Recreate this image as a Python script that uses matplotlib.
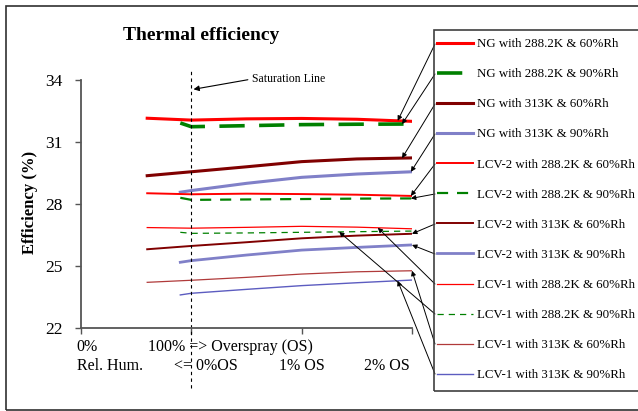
import numpy as np
import matplotlib
matplotlib.use("Agg")
import matplotlib.pyplot as plt
from matplotlib.patches import Rectangle

plt.rcParams['font.family'] = 'serif'
plt.rcParams['font.serif'] = ['Liberation Serif', 'DejaVu Serif']

## x positions: 0 = 0% RH, 1 = 100% RH / 0% OS, 2 = 1% OS, 3 = 2% OS
x_rh60 = [0.6, 1.0, 1.5, 2.0, 2.5, 3.0]
x_rh90 = [0.9, 1.0, 1.5, 2.0, 2.5, 3.0]

ng_288_60 = [32.15, 32.06, 32.12, 32.14, 32.10, 32.00]
ng_288_90 = [31.92, 31.74, 31.79, 31.84, 31.86, 31.87]
ng_313_60 = [29.37, 29.56, 29.80, 30.05, 30.18, 30.23]
ng_313_90 = [28.57, 28.65, 29.00, 29.29, 29.45, 29.56]
lcv2_288_60 = [28.52, 28.47, 28.50, 28.48, 28.45, 28.39]
lcv2_288_90 = [28.30, 28.20, 28.22, 28.24, 28.26, 28.27]
lcv2_313_60 = [25.81, 25.97, 26.15, 26.34, 26.47, 26.56]
lcv2_313_90 = [25.18, 25.26, 25.53, 25.77, 25.90, 26.02]
lcv1_288_60 = [26.86, 26.83, 26.87, 26.92, 26.88, 26.80]
lcv1_288_90 = [26.63, 26.58, 26.60, 26.63, 26.66, 26.69]
lcv1_313_60 = [24.21, 24.31, 24.45, 24.61, 24.72, 24.77]
lcv1_313_90 = [23.60, 23.68, 23.87, 24.05, 24.19, 24.32]

labels = ["NG with 288.2K & 60%Rh", "NG with 288.2K & 90%Rh",
          "NG with 313K & 60%Rh", "NG with 313K & 90%Rh",
          "LCV-2 with 288.2K & 60%Rh", "LCV-2 with 288.2K & 90%Rh",
          "LCV-2 with 313K & 60%Rh", "LCV-2 with 313K & 90%Rh",
          "LCV-1 with 288.2K & 60%Rh", "LCV-1 with 288.2K & 90%Rh",
          "LCV-1 with 313K & 60%Rh", "LCV-1 with 313K & 90%Rh"]

y_ticks = [22, 25, 28, 31, 34]

series = [
    (x_rh60, ng_288_60, "#FF0000", 2.2, "-"),
    (x_rh90, ng_288_90, "#008000", 2.6, (0, (7, 4))),
    (x_rh60, ng_313_60, "#800000", 2.2, "-"),
    (x_rh90, ng_313_90, "#8080C8", 2.2, "-"),
    (x_rh60, lcv2_288_60, "#FF0000", 1.4, "-"),
    (x_rh90, lcv2_288_90, "#008000", 1.6, (0, (5, 4))),
    (x_rh60, lcv2_313_60, "#800000", 1.4, "-"),
    (x_rh90, lcv2_313_90, "#8080C8", 2.0, "-"),
    (x_rh60, lcv1_288_60, "#FF0000", 0.9, "-"),
    (x_rh90, lcv1_288_90, "#008000", 0.9, (0, (5, 4))),
    (x_rh60, lcv1_313_60, "#B03A3A", 0.9, "-"),
    (x_rh90, lcv1_313_90, "#5C5CC0", 1.0, "-"),
]
## where each callout arrow hits its line
arrow_x = [2.87, 2.91, 2.91, 2.99, 2.99, 2.99, 3.0, 3.0, 2.69, 2.34, 3.0, 2.87]

W, H = 638, 411
fig = plt.figure(figsize=(W / 100, H / 100), dpi=100)
ax = fig.add_axes([81 / W, (H - 328) / H, (412 - 81) / W, (328 - 80) / H])

handles = []
for xs, ys, c, lw, ls in series:
    ln, = ax.plot(xs, ys, color=c, lw=lw, linestyle=ls)
    handles.append(ln)

ax.set_xlim(0, 3)
ax.set_ylim(22, 34)
ax.set_yticks(y_ticks)
ax.set_xticks([0, 1, 2, 3])
ax.set_xticklabels([])
ax.tick_params(axis='y', direction='out', length=4, width=1, pad=9,
               labelsize=12.5, color='#555555')
ax.tick_params(axis='x', direction='out', length=4, width=1, color='#555555')
for s in ['top', 'right']:
    ax.spines[s].set_visible(False)
for s in ['left', 'bottom']:
    ax.spines[s].set_color('#555555')
    ax.spines[s].set_linewidth(1.3)

## x "labels"
xt = ax.get_xaxis_transform()
ax.text(-0.04, -0.077, "0%", transform=xt, ha='left', va='center', fontsize=11.5)
ax.text(0.61, -0.077, "100% => Overspray (OS)", transform=xt, ha='left', va='center', fontsize=11.5)
ax.text(-0.04, -0.153, "Rel. Hum.", transform=xt, ha='left', va='center', fontsize=11.5)
ax.text(0.84, -0.153, "<= 0%OS", transform=xt, ha='left', va='center', fontsize=11.5)
ax.text(2.0, -0.153, "1% OS", transform=xt, ha='center', va='center', fontsize=11.5)
ax.text(2.77, -0.153, "2% OS", transform=xt, ha='center', va='center', fontsize=11.5)

## saturation line
ax.axvline(1.0, ymin=-0.242, ymax=1.04, clip_on=False, color='black', lw=0.8,
           linestyle=(0, (3, 3)))
ax.annotate("Saturation Line", xy=(1.02, 33.55), xycoords='data',
            xytext=(252, H - 79), textcoords='figure pixels',
            ha='left', va='center', fontsize=8.5,
            arrowprops=dict(arrowstyle='-|>', color='black', lw=0.8,
                            mutation_scale=8, shrinkA=1, shrinkB=0,
                            relpos=(0, 0.5)))

fig.text(201 / W, 1 - 36 / H, "Thermal efficiency", ha='center', va='center',
         fontsize=14, fontweight='bold')
fig.text(30 / W, 1 - 202 / H, "Efficiency (%)", ha='center', va='center',
         rotation=90, fontsize=12, fontweight='bold')

## legend
leg = ax.legend(handles, labels, loc='upper left',
                bbox_to_anchor=(437 / W, 1 - 38 / H), bbox_transform=fig.transFigure,
                frameon=False, fontsize=9.3, handlelength=2.8, handletextpad=0.3,
                labelspacing=1.4, borderpad=0, borderaxespad=0)

for i, (xs, ys, c, lw, ls) in enumerate(series):
    tx = arrow_x[i]
    ty = np.interp(tx, xs, ys)
    ax.annotate("", xy=(tx, ty), xycoords='data',
                xytext=(435, H - 44 - 30 * i), textcoords='figure pixels',
                arrowprops=dict(arrowstyle='-|>', color='black', lw=0.7,
                                mutation_scale=7, shrinkA=0, shrinkB=0))

fig.add_artist(Rectangle((434 / W, (H - 391) / H), 0.5, (391 - 30) / H,
                         transform=fig.transFigure, fill=False,
                         edgecolor='#404040', lw=1.2))
fig.add_artist(Rectangle((6 / W, 1.5 / H), 1.1, (H - 8) / H,
                         transform=fig.transFigure, fill=False,
                         edgecolor='#303030', lw=1.2))

fig.savefig("out.png", dpi=100)
plt.close("all")
